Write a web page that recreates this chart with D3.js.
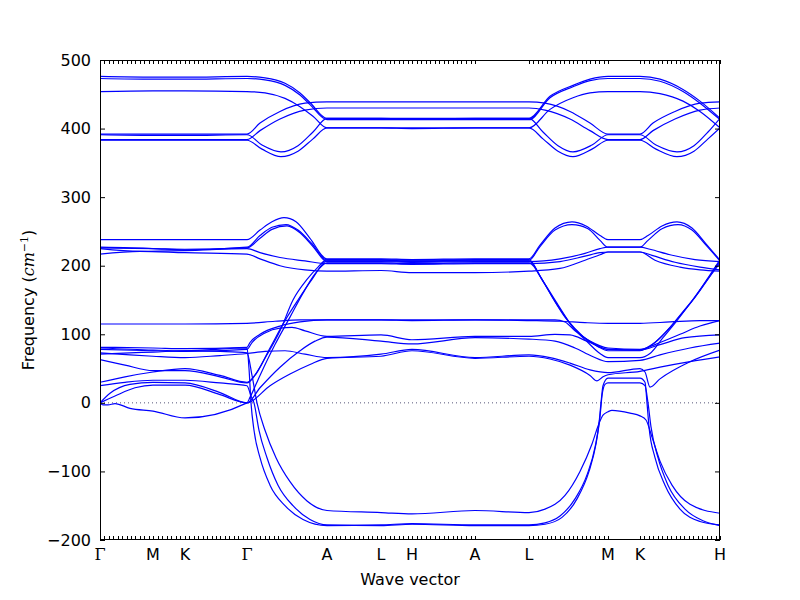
<!DOCTYPE html>
<html><head><meta charset="utf-8">
<script src="https://cdn.jsdelivr.net/npm/d3@7"></script>
<style>body{margin:0;background:#fff}svg{display:block}text{font-family:"DejaVu Sans",sans-serif}</style>
</head><body><svg id="c" width="800" height="600"></svg>
<script>
// ---- high-symmetry path ----
const kLabels = ["Γ","M","K","Γ","A","L","H","A","L","M","K","H"];
const kPos    = [0,53,85,147,227,281,312,375,429,508,540,620];
const segTicks = [12,7,14,18,12,7,14,0,18,0,18]; // q-point ticks per segment
const yTicks = [-200,-100,0,100,200,300,400,500];

// ---- bands: [q, frequency cm^-1] ----
const bandU1 = [[0,476],[53,475],[85,475],[147,476],[165,474],[185,466],[200,452],[210,438],[227,415],[281,415],[312,414],[375,415],[429,415],[450,447],[473,463],[490,472],[508,476],[540,476],[560,472],[583,457],[600,440],[620,415]];
const bandU2 = [[0,473],[53,472],[85,472],[147,473],[165,471],[185,463],[200,449],[210,435],[227,413],[281,413],[312,413],[375,413],[429,413],[450,445],[473,461],[490,470],[508,473],[540,473],[560,469],[583,454],[600,437],[620,413]];
const bandU3 = [[0,454],[53,455],[85,455],[147,454],[165,452],[185,444],[200,432],[213,418],[227,401],[281,401],[312,401],[375,401],[429,401],[450,428],[473,445],[490,452],[508,454],[540,454],[560,451],[583,440],[600,425],[620,401]];
const bandU4 = [[0,392],[53,392],[85,392],[147,392],[160,408],[180,425],[205,437],[227,439],[281,439],[312,439],[375,439],[429,439],[445,437],[470,425],[490,408],[508,392],[540,392],[553,408],[575,425],[600,437],[620,439]];
const bandU5 = [[0,384],[53,384],[85,384],[147,384],[160,397],[180,414],[205,427],[227,430],[281,430],[312,430],[375,430],[429,430],[445,427],[470,414],[490,397],[508,384],[540,384],[553,397],[575,414],[600,427],[620,430]];
const bandU6 = [[0,391],[53,390],[85,390],[147,391],[162,376],[181,366],[198,375],[213,395],[227,415],[281,415],[312,415],[375,415],[429,415],[443,395],[458,375],[473,366],[492,376],[508,391],[540,391],[556,376],[577,366],[594,375],[608,395],[620,415]];
const bandU7 = [[0,383],[53,383],[85,383],[147,383],[162,370],[181,359],[198,367],[213,385],[227,401],[281,401],[312,400],[375,401],[429,401],[443,385],[458,367],[473,359],[492,370],[508,383],[540,383],[556,370],[577,359],[594,367],[608,385],[620,401]];

const bandM1 = [[0,238],[53,238],[85,238],[147,238],[160,252],[172,264],[184,270],[196,264],[210,240],[227,210],[281,210],[312,209],[375,210],[429,210],[440,230],[455,255],[472,264],[486,258],[500,244],[508,238],[540,238],[548,244],[562,258],[577,264],[592,255],[606,232],[620,208]];
const bandM2 = [[0,227],[53,225],[85,223],[147,227],[160,244],[172,256],[186,260],[198,252],[212,232],[227,208],[281,208],[312,207],[375,208],[429,208],[440,228],[455,252],[472,260],[488,254],[500,237],[508,227],[540,227],[548,237],[562,254],[578,260],[592,252],[606,230],[620,207]];
const bandM3 = [[0,226],[53,225],[85,224],[147,226],[160,240],[172,253],[187,258],[200,248],[213,228],[227,206],[281,206],[312,205],[375,206],[429,206],[460,210],[485,218],[500,225],[508,227],[540,227],[550,224],[570,216],[595,209],[620,206]];
const bandM4 = [[0,225],[40,221],[85,222],[147,225],[160,219],[180,212],[205,207],[227,203],[281,203],[312,202],[375,203],[429,203],[460,206],[485,214],[500,219],[508,220],[540,220],[552,215],[575,205],[600,198],[620,194]];
const bandM5 = [[0,217],[40,221],[85,219],[147,217],[160,210],[180,200],[205,194],[227,192],[281,193],[312,190],[375,190],[429,192],[460,196],[485,208],[500,216],[508,220],[540,220],[555,208],[580,198],[600,194],[620,192]];

const bandB1 = [[0,115],[53,115],[85,115],[147,116],[175,119],[200,121],[227,121],[281,121],[312,120],[375,121],[429,120],[460,119],[485,117],[508,116],[540,116],[570,118],[600,120],[620,120]];
const bandB2 = [[0,81],[53,80],[85,79],[147,81],[150,88],[160,100],[180,112],[200,118],[227,121],[281,121],[312,121],[375,121],[429,121],[455,121],[465,118],[475,105],[490,90],[508,80],[540,78],[555,85],[580,100],[600,112],[620,120]];
const bandB3 = [[0,78],[53,76],[85,75],[147,78],[152,88],[165,102],[180,109],[192,110],[205,105],[227,97],[281,99],[312,92],[375,97],[429,97],[455,100],[470,99],[487,90],[508,78],[540,77],[560,85],[585,95],[620,99]];
const bandB4 = [[0,73],[30,70],[53,68],[85,66],[120,69],[147,72],[165,75],[185,76],[205,71],[227,66],[281,71],[312,78],[375,66],[429,70],[450,66],[470,58],[490,48],[508,44],[540,50],[545,45],[550,23],[560,35],[590,60],[620,77]];
const bandB5 = [[0,71],[30,73],[53,74],[85,76],[120,75],[147,73],[152,40],[157,0],[165,-40],[176,-80],[190,-115],[207,-143],[227,-157],[281,-160],[312,-162],[375,-157],[429,-160],[445,-155],[465,-135],[480,-100],[492,-60],[499,-30],[503,-18],[508,-13],[512,-11],[530,-15],[540,-19],[546,-25],[552,-50],[560,-85],[572,-120],[590,-148],[620,-161]];
const bandB6 = [[0,63],[25,55],[53,47],[85,47],[120,38],[147,29],[155,40],[165,65],[180,105],[193,150],[207,180],[218,198],[227,209],[281,209],[312,208],[375,209],[429,209],[440,185],[452,155],[465,125],[480,100],[495,85],[508,78],[540,77],[552,85],[567,105],[580,127],[593,150],[607,180],[620,209]];
const bandB7 = [[0,30],[25,38],[53,45],[85,50],[120,40],[147,30],[157,45],[170,80],[185,120],[198,150],[212,180],[227,207],[281,207],[312,206],[375,207],[429,207],[442,180],[455,148],[468,120],[483,97],[498,82],[508,76],[540,76],[555,88],[570,110],[583,133],[597,158],[610,185],[620,207]];
const bandB8 = [[0,25],[25,30],[53,33],[85,33],[120,29],[147,25],[151,10],[154,0],[159,-40],[167,-80],[178,-120],[193,-150],[210,-170],[227,-178],[281,-179],[312,-177],[375,-179],[429,-179],[445,-177],[462,-167],[477,-140],[489,-100],[496,-60],[500,-20],[502,10],[505,27],[508,29],[540,29],[545,25],[548,0],[551,-35],[558,-80],[568,-120],[585,-155],[603,-172],[620,-179]];
const bandB9 = [[0,0],[10,14],[30,27],[53,30],[85,29],[120,15],[147,0],[160,22],[180,52],[200,76],[215,90],[227,96],[281,90],[312,86],[375,95],[429,93],[455,90],[475,80],[492,68],[508,60],[540,62],[560,70],[590,80],[620,87]];
const bandB10 = [[0,0],[15,10],[35,22],[53,26],[85,26],[120,12],[147,0],[170,25],[190,42],[210,56],[227,65],[281,68],[312,76],[375,65],[429,68],[450,64],[470,55],[490,40],[497,32],[503,38],[508,41],[540,46],[560,52],[590,60],[620,67]];
const bandB11 = [[0,0],[3,-3],[8,-3],[15,-1],[30,-8],[53,-12],[85,-22],[147,0],[150,8],[160,40],[175,85],[190,125],[203,160],[215,188],[227,204],[281,204],[312,203],[375,204],[429,204],[444,175],[458,143],[472,112],[488,88],[500,72],[508,66],[540,66],[550,72],[563,95],[577,120],[590,145],[605,175],[620,204]];
const bandB12 = [[0,80],[53,77],[85,76],[147,80],[149,50],[151,0],[154,-40],[160,-80],[170,-120],[185,-150],[203,-170],[227,-179],[281,-178],[312,-176],[375,-178],[429,-178],[445,-175],[460,-165],[475,-140],[487,-105],[495,-65],[499,-30],[501,0],[503,25],[508,36],[540,36],[545,30],[547,0],[549,-35],[555,-80],[565,-120],[580,-155],[600,-173],[620,-178]];

const bands = [bandU1,bandU2,bandU3,bandU4,bandU5,bandU6,bandU7,bandM1,bandM2,bandM3,bandM4,bandM5,
  bandB1,bandB2,bandB3,bandB4,bandB5,bandB6,bandB7,bandB8,bandB9,bandB10,bandB11,bandB12];

// ---- drawing ----
const svg = d3.select("#c");
const L = 100, R = 720, T = 60, B = 540;
const x = d3.scaleLinear().domain([kPos[0], kPos[kPos.length-1]]).range([L, R]);
const y = d3.scaleLinear().domain([-200, 500]).range([B, T]);

svg.append("defs").append("clipPath").attr("id","pc").append("rect")
  .attr("x",L).attr("y",T).attr("width",R-L).attr("height",B-T);

// zero line
svg.append("line").attr("x1",L).attr("x2",R).attr("y1",y(0)).attr("y2",y(0))
  .attr("stroke","#555577").attr("stroke-width",1).attr("stroke-dasharray","1,3");

const line = d3.line().x(d=>x(d[0])).y(d=>y(d[1])).curve(d3.curveMonotoneX);
svg.append("g").attr("clip-path","url(#pc)").selectAll("path").data(bands).join("path")
  .attr("d", line).attr("fill","none").attr("stroke","#0000ff").attr("stroke-width",1.2)
  .attr("stroke-linejoin","round");

// frame
svg.append("rect").attr("x",L+0.5).attr("y",T+0.5).attr("width",R-L-1).attr("height",B-T-1)
  .attr("fill","none").attr("stroke","#000").attr("stroke-width",1);

// y axes
const yl = svg.append("g").attr("transform",`translate(${L},0)`)
  .call(d3.axisLeft(y).tickValues(yTicks).tickSizeInner(-5).tickSizeOuter(0).tickPadding(9));
yl.select(".domain").remove();
yl.selectAll("text").style("font-size","16px").style("font-family","DejaVu Sans").attr("fill","#000");
const yr = svg.append("g").attr("transform",`translate(${R},0)`)
  .call(d3.axisRight(y).tickValues(yTicks).tickSizeInner(-5).tickSizeOuter(0).tickFormat(""));
yr.select(".domain").remove();

// x minor ticks at q points
const qTicks = [];
segTicks.forEach((n,i)=>{
  if(n===0) return;
  const a = kPos[i], b = kPos[i+1];
  for(let j=0;j<=n;j++) qTicks.push(a + (b-a)*j/n);
});
const gt = svg.append("g");
gt.selectAll("line.b").data(qTicks).join("line").attr("class","b")
  .attr("x1",d=>Math.round(x(d))+0.5).attr("x2",d=>Math.round(x(d))+0.5).attr("y1",B).attr("y2",B-4)
  .attr("stroke","#000").attr("stroke-width",1);
gt.selectAll("line.t").data(qTicks).join("line").attr("class","t")
  .attr("x1",d=>Math.round(x(d))+0.5).attr("x2",d=>Math.round(x(d))+0.5).attr("y1",T).attr("y2",T+4)
  .attr("stroke","#000").attr("stroke-width",1);

// x labels
svg.append("g").selectAll("text").data(kPos).join("text")
  .attr("x",d=>x(d)).attr("y",B+20).attr("text-anchor","middle")
  .style("font-size","16px")
  .style("font-family",(d,i)=>kLabels[i]==="Γ"?"DejaVu Serif":"DejaVu Sans")
  .text((d,i)=>kLabels[i]);

svg.append("text").attr("x",(L+R)/2).attr("y",585).attr("text-anchor","middle")
  .style("font-size","16px").text("Wave vector");

const yt = svg.append("text").attr("transform","translate(34,300) rotate(-90)").attr("text-anchor","middle")
  .style("font-size","16px");
yt.append("tspan").text("Frequency (");
yt.append("tspan").style("font-family","DejaVu Serif").style("font-style","italic").text("cm");
yt.append("tspan").attr("dy",-6).style("font-size","11px").style("font-family","DejaVu Serif").text("−1");
yt.append("tspan").attr("dy",6).text(")");
</script></body></html>
